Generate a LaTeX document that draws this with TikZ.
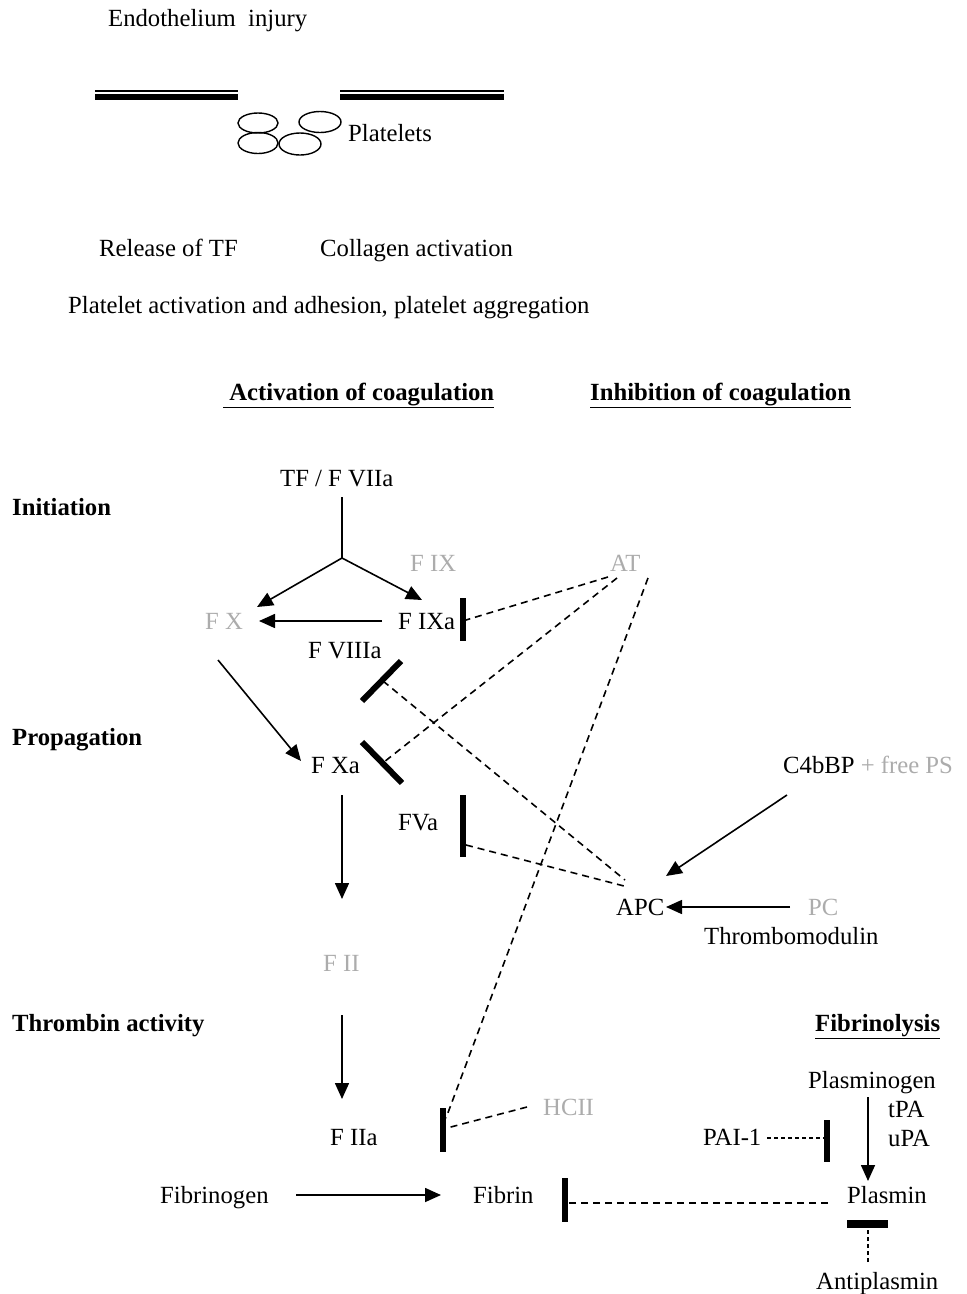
\documentclass[tikz,border=0pt]{standalone}
\usepackage{fontspec}
\setmainfont{Liberation Serif}
\usetikzlibrary{arrows.meta}
\tikzset{
  lbl/.style={inner sep=0pt, anchor=base west},
  gr/.style={lbl, text=gray!65},
  hd/.style={lbl, font=\fontsize{24.7}{30}\selectfont\bfseries},
  arr/.style={line width=1.6pt, -{Triangle[length=16pt,width=14pt]}},
  inh/.style={line width=6pt},
  dsh/.style={line width=1.6pt, dash pattern=on 7pt off 5pt},
  fdsh/.style={line width=1.3pt, dash pattern=on 4pt off 3pt},
  plate/.style={line width=1.4pt},
}
\begin{document}
\begin{tikzpicture}[x=1pt,y=-1pt,font=\fontsize{24.7}{30}\selectfont]
\useasboundingbox (0,0) rectangle (967,1294);
% top part
\node[lbl] (inj) at (108,26) {Endothelium\ \ injury};
\coordinate (m1a) at (95,91); \coordinate (m1b) at (238,91);
\coordinate (m2a) at (340,91); \coordinate (m2b) at (504,91);
\coordinate (m1c) at (95,97); \coordinate (m1d) at (238,97);
\coordinate (m2c) at (340,97); \coordinate (m2d) at (504,97);
\draw[line width=1.2pt] (m1a) -- (m1b);
\draw[line width=1.2pt] (m2a) -- (m2b);
\draw[line width=5.5pt] (m1c) -- (m1d);
\draw[line width=5.5pt] (m2c) -- (m2d);
\draw[plate] (258,123) ellipse [x radius=20, y radius=10];
\draw[plate] (258,143) ellipse [x radius=20, y radius=10.5];
\draw[plate] (300,144) ellipse [x radius=21, y radius=11];
\draw[plate] (320,122) ellipse [x radius=21, y radius=10.5];
\node[lbl] (plt) at (348,141) {Platelets};
\node[lbl] (rel) at (99,256) {Release of TF};
\node[lbl] (col) at (320,256) {Collagen activation};
\node[lbl] (pla) at (68,313) {Platelet activation and adhesion, platelet aggregation};
\node[hd] (act) at (223,400) {\underline{\ Activation of coagulation}};
\node[hd] (inhc) at (590,400) {\underline{Inhibition of coagulation}};
% section labels
\node[hd] (ini) at (12,515) {Initiation};
\node[hd] (prop) at (12,745) {Propagation};
\node[hd] (thr) at (12,1031) {Thrombin activity};
\node[hd] (fibl) at (815,1031) {\underline{Fibrinolysis}};
% factors
\node[lbl] (tf) at (280,486) {TF / F VIIa};
\node[gr] (fix) at (410,571) {F IX};
\node[gr] (at) at (610,571) {AT};
\node[gr] (fx) at (205,629) {F X};
\node[lbl] (fixa) at (398,629) {F IXa};
\node[lbl] (f8) at (308,658) {F VIIIa};
\node[lbl] (fxa) at (311,773) {F Xa};
\node[lbl] (c4) at (783,773) {C4bBP \textcolor{gray!65}{+ free PS}};
\node[lbl] (fva) at (398,830) {FVa};
\node[lbl] (apc) at (616,915) {APC};
\node[gr] (pc) at (808,915) {PC};
\node[lbl] (tm) at (704,944) {Thrombomodulin};
\node[gr] (fii) at (323,971) {F II};
\node[lbl] (plg) at (808,1088) {Plasminogen};
\node[lbl] (tpa) at (888,1117) {tPA};
\node[gr] (hcii) at (543,1115) {HCII};
\node[lbl] (fiia) at (330,1145) {F IIa};
\node[lbl] (pai) at (703,1145) {PAI-1};
\node[lbl] (upa) at (888,1146) {uPA};
\node[lbl] (fbg) at (160,1203) {Fibrinogen};
\node[lbl] (fbn) at (473,1203) {Fibrin};
\node[lbl] (plm) at (847,1203) {Plasmin};
\node[lbl] (apl) at (816,1289) {Antiplasmin};
% coordinates
\coordinate (tfb) at (342,497);
\coordinate (br) at (342,558);
\coordinate (fxt) at (257,607);
\coordinate (fixat) at (422,600);
\coordinate (fixal) at (382,621);
\coordinate (fxr) at (259,621);
\coordinate (fxb) at (218,660);
\coordinate (fxat) at (301,761);
\coordinate (fxab) at (342,795);
\coordinate (fiit) at (342,899);
\coordinate (fiib) at (342,1015);
\coordinate (fiiat) at (342,1099);
\coordinate (fbgr) at (296,1195);
\coordinate (fbnl) at (441,1195);
\coordinate (c4b) at (787,795);
\coordinate (apcr) at (666,876);
\coordinate (pcl) at (790,907);
\coordinate (apce) at (666,907);
\coordinate (plgb) at (868,1097);
\coordinate (plmt) at (868,1181);
% arrows
\draw[line width=1.6pt] (tfb) -- (br);
\draw[arr] (br) -- (fxt);
\draw[arr] (br) -- (fixat);
\draw[arr] (fixal) -- (fxr);
\draw[arr] (fxb) -- (fxat);
\draw[arr] (fxab) -- (fiit);
\draw[arr] (fiib) -- (fiiat);
\draw[arr] (fbgr) -- (fbnl);
\draw[arr] (c4b) -- (apcr);
\draw[arr] (pcl) -- (apce);
\draw[arr] (plgb) -- (plmt);
% inhibition bars
\coordinate (b1a) at (463,598); \coordinate (b1b) at (463,641);
\coordinate (b2a) at (401,661); \coordinate (b2b) at (362,701);
\coordinate (b3a) at (362,742); \coordinate (b3b) at (402,783);
\coordinate (b4a) at (463,795); \coordinate (b4b) at (463,857);
\coordinate (b5a) at (443,1108); \coordinate (b5b) at (443,1152);
\coordinate (b6a) at (827,1120); \coordinate (b6b) at (827,1162);
\coordinate (b7a) at (565,1178); \coordinate (b7b) at (565,1222);
\coordinate (b8a) at (847,1224); \coordinate (b8b) at (888,1224);
\draw[inh] (b1a) -- (b1b);
\draw[inh] (b2a) -- (b2b);
\draw[inh] (b3a) -- (b3b);
\draw[inh] (b4a) -- (b4b);
\draw[inh] (b5a) -- (b5b);
\draw[inh] (b6a) -- (b6b);
\draw[inh] (b7a) -- (b7b);
\draw[line width=8pt] (b8a) -- (b8b);
% dashed inhibitions
\coordinate (at1) at (608,577);
\coordinate (at2) at (617,578);
\coordinate (at3) at (648,578);
\coordinate (apc1) at (625,880);
\coordinate (apc2) at (624,886);
\coordinate (hcl) at (527,1107);
\coordinate (pair) at (767,1138);
\coordinate (plml) at (828,1203);
\coordinate (aplt) at (868,1262);
\draw[dsh] (at1) -- (466,620);
\draw[dsh] (383,681) -- (apc1);
\draw[dsh] (at2) -- (384,762);
\draw[dsh] (466,845) -- (apc2);
\draw[dsh] (at3) -- (446,1118);
\draw[dsh] (hcl) -- (447,1128);
\draw[fdsh] (pair) -- (824,1138);
\draw[dsh] (plml) -- (569,1203);
\draw[fdsh] (aplt) -- (868,1229);
\end{tikzpicture}
\end{document}
